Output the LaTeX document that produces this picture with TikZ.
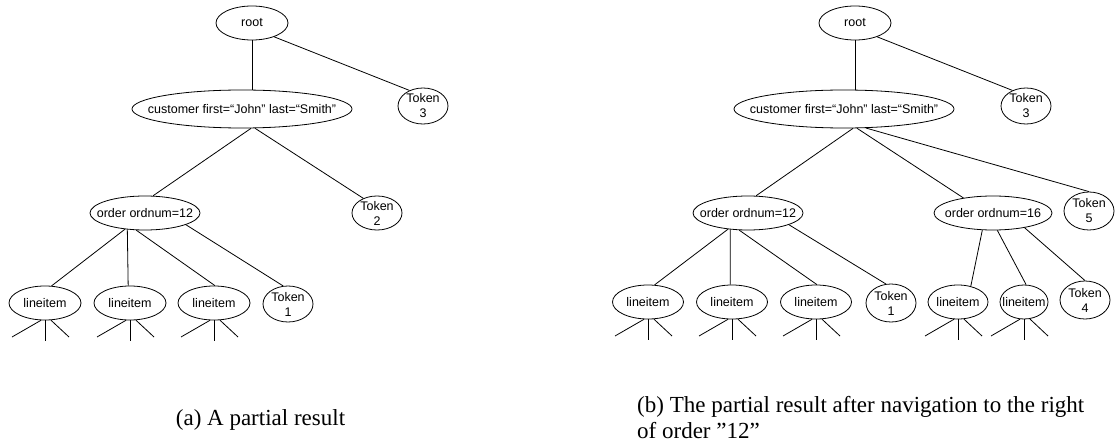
\documentclass[tikz,border=0pt]{standalone}
\usepackage{fontspec}
\setmainfont{Liberation Serif}
\newfontfamily\nodefont{Liberation Sans}
\usetikzlibrary{shapes.geometric,calc}

\tikzset{
  treenode/.style={draw, ellipse, inner sep=0pt, line width=0.8pt,
    font=\nodefont\fontsize{12.5}{15}\selectfont},
  % single-line label: the text does not widen the ellipse
  lbl/.style={treenode,
    execute at begin node={\hbox to 0pt\bgroup\hss},
    execute at end node={\hss\egroup}},
  tok/.style={treenode, align=center, minimum width=50pt},
  conn/.style={line width=0.8pt},
  captext/.style={inner sep=0pt, font=\fontsize{23}{26}\selectfont},
}

\begin{document}
\begin{tikzpicture}[x=1pt,y=-1pt]
\useasboundingbox (0,0) rectangle (1115,446);

% ---------- (a) ----------
\node[lbl, minimum width=72pt, minimum height=34pt] (rootA) at (252,23) {root};
\node[tok, minimum height=36pt] (tok3A) at (423,106) {Token\\3};
\node[lbl, minimum width=220pt, minimum height=38pt] (custA) at (242,109) {customer first=“John” last=“Smith”};
\node[tok, minimum height=34pt] (tok2A) at (377,213) {Token\\2};
\node[lbl, minimum width=110pt, minimum height=34pt] (ordA) at (145,213) {order ordnum=12};
\node[lbl, minimum width=72pt, minimum height=34pt] (liA1) at (45,303) {lineitem};
\node[lbl, minimum width=72pt, minimum height=34pt] (liA2) at (130,303) {lineitem};
\node[lbl, minimum width=72pt, minimum height=34pt] (liA3) at (214,303) {lineitem};
\node[tok, minimum height=36pt] (tok1A) at (288,304) {Token\\1};

\draw[conn] (rootA.-32) -- (tok3A.131);
\draw[conn] (rootA.south) -- (rootA.south |- custA.north);
\draw[conn] (custA.-65) -- (ordA.65);
\draw[conn] (custA.-56) -- (tok2A.133);
\draw[conn] (ordA.-141) -- (liA1.69);
\draw[conn] (ordA.-137) -- (liA2.96);
\draw[conn] (ordA.-117) -- (liA3.87);
\draw[conn] (ordA.-16) -- (tok1A.105);

% ---------- (b) ----------
\node[lbl, minimum width=72pt, minimum height=34pt] (rootB) at (855,23) {root};
\node[tok, minimum height=36pt] (tok3B) at (1026,106) {Token\\3};
\node[lbl, minimum width=220pt, minimum height=38pt] (custB) at (844,109) {customer first=“John” last=“Smith”};
\node[lbl, minimum width=110pt, minimum height=34pt] (ordB) at (748,213) {order ordnum=12};
\node[lbl, minimum width=118pt, minimum height=34pt] (ord16B) at (993,213) {order ordnum=16};
\node[tok, minimum height=38pt] (tok5B) at (1089,211) {Token\\5};
\node[lbl, minimum width=71pt, minimum height=34pt] (liB1) at (648,302) {lineitem};
\node[lbl, minimum width=71pt, minimum height=34pt] (liB2) at (732,302) {lineitem};
\node[lbl, minimum width=71pt, minimum height=34pt] (liB3) at (816,302) {lineitem};
\node[tok, minimum height=38pt] (tok1B) at (891,303) {Token\\1};
\node[lbl, minimum width=60pt, minimum height=34pt] (liB4) at (958,302) {lineitem};
\node[lbl, minimum width=48pt, minimum height=34pt] (liB5) at (1024,302) {lineitem};
\node[tok, minimum height=38pt] (tok4B) at (1085,300) {Token\\4};

\draw[conn] (rootB.-32) -- (tok3B.131);
\draw[conn] (rootB.south) -- (rootB.south |- custB.north);
\draw[conn] (custB.-65) -- (ordB.65);
\draw[conn] (custB.-56) -- (ord16B.153);
\draw[conn] (custB.-41) -- (tok5B.north);
\draw[conn] (ordB.-141) -- (liB1.69);
\draw[conn] (ordB.-137) -- (liB2.96);
\draw[conn] (ordB.-117) -- (liB3.87);
\draw[conn] (ordB.-16) -- (tok1B.105);
\draw[conn] (ord16B.-122) -- (liB4.51);
\draw[conn] (ord16B.-76) -- (liB5.83);
\draw[conn] (ord16B.-25) -- (tok4B.north);

% three truncated branches below every lineitem
\foreach \n in {liA1,liA2,liA3,liB1,liB2,liB3,liB4,liB5}{
  \coordinate (\n-l) at ($(\n.center)+(-33,34)$);
  \coordinate (\n-m) at ($(\n.center)+(0,38)$);
  \coordinate (\n-r) at ($(\n.center)+(24,34)$);
  \draw[conn] (\n.-103) -- (\n-l);
  \draw[conn] (\n.south) -- (\n-m);
  \draw[conn] (\n.-71) -- (\n-r);
}

% ---------- captions ----------
\node[captext, anchor=base] (capA) at (260.5,425) {(a) A partial result};
\node[captext, anchor=base west, align=left] (capB) at (637,438)
  {(b) The partial result after navigation to the right\\of order ”12”};
\end{tikzpicture}
\end{document}
